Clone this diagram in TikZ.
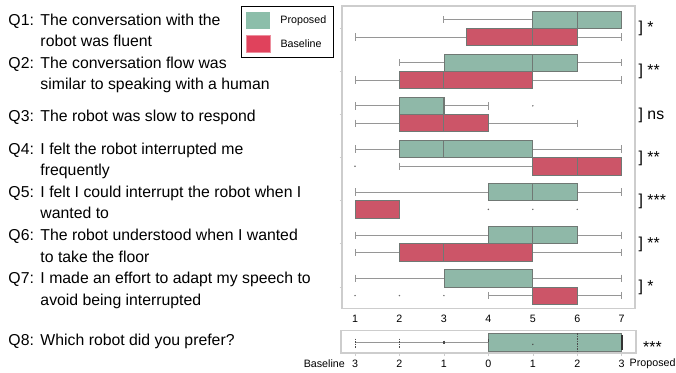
\documentclass[tikz,border=0pt]{standalone}
\usepackage{fontspec}
\setmainfont{Liberation Sans}
\usetikzlibrary{positioning}

\definecolor{propgreen}{RGB}{143,184,168}
\definecolor{basered}{RGB}{204,85,104}
\definecolor{leggreen}{RGB}{140,190,170}
\definecolor{legred}{RGB}{224,66,92}
\definecolor{framegray}{RGB}{205,205,205}
\definecolor{whiskgray}{RGB}{150,150,150}
\definecolor{edgegray}{RGB}{112,120,116}

\newcommand\questfont{\fontsize{15.8}{21.5}\selectfont}
\newcommand\axisfont{\fontsize{10.7}{12}\selectfont}

\tikzstyle{question} = [anchor=base west, inner sep=0pt, align=left, font=\questfont]
\tikzstyle{signif} = [anchor=base west, inner sep=0pt, font=\questfont]
\tikzstyle{axislabel} = [inner sep=0pt, font=\axisfont]
\tikzstyle{legtext} = [inner sep=0pt, font=\axisfont]
\tikzstyle{swatch} = [minimum width=24pt, minimum height=16.7pt, inner sep=0pt]
\tikzstyle{plotframe} = [draw=framegray, line width=1.2pt]
\tikzstyle{whisker} = [draw=whiskgray, line width=0.9pt]
\tikzstyle{propbox} = [fill=propgreen, draw=edgegray, line width=0.8pt]
\tikzstyle{basebox} = [fill=basered, draw=edgegray, line width=0.8pt]
\tikzstyle{median} = [draw=edgegray, line width=0.9pt]
\tikzstyle{qmark} = [draw=black!70, line width=1pt, dash pattern=on 1.5pt off 1pt]

\def\boxh{17.3}
\def\qindent{32pt}
% value on the 1..7 scale -> x position
\newcommand\xv[1]{\fpeval{355+(#1-1)*44.45}}

% #1 top of box, #2 box style, #3 low whisker, #4 q1, #5 median, #6 q3, #7 high whisker
\newcommand\bxplot[7]{%
    \draw[whisker] ({\xv{#3}},{#1+8.65}) -- ({\xv{#4}},{#1+8.65});
    \draw[whisker] ({\xv{#6}},{#1+8.65}) -- ({\xv{#7}},{#1+8.65});
    \draw[whisker] ({\xv{#3}},{#1+5}) -- ({\xv{#3}},{#1+12.3});
    \draw[whisker] ({\xv{#7}},{#1+5}) -- ({\xv{#7}},{#1+12.3});
    \draw[#2] ({\xv{#4}},#1) rectangle ({\xv{#6}},{#1+\boxh});
    \draw[median] ({\xv{#5}},#1) -- ({\xv{#5}},{#1+\boxh});
}
\newcommand\outlier[2]{\fill[whiskgray!70!black] ({\xv{#1}},{#2+8.65}) circle (0.8pt);}

\begin{document}
\begin{tikzpicture}[x=1pt, y=-1pt]
    \useasboundingbox (0,0) rectangle (676,372);

    % questions (base anchor sits on the last line)
    \path (8.3,46.5) node (q1) [question] {\makebox[\qindent][l]{Q1:}The conversation with the\\\hspace*{\qindent}robot was fluent};
    \path (8.3,89.6) node (q2) [question] {\makebox[\qindent][l]{Q2:}The conversation flow was\\\hspace*{\qindent}similar to speaking with a human};
    \path (8.3,121.5) node (q3) [question] {\makebox[\qindent][l]{Q3:}The robot was slow to respond};
    \path (8.3,175.8) node (q4) [question] {\makebox[\qindent][l]{Q4:}I felt the robot interrupted me\\\hspace*{\qindent}frequently};
    \path (8.3,218.9) node (q5) [question] {\makebox[\qindent][l]{Q5:}I felt I could interrupt the robot when I\\\hspace*{\qindent}wanted to};
    \path (8.3,262) node (q6) [question] {\makebox[\qindent][l]{Q6:}The robot understood when I wanted\\\hspace*{\qindent}to take the floor};
    \path (8.3,305.1) node (q7) [question] {\makebox[\qindent][l]{Q7:}I made an effort to adapt my speech to\\\hspace*{\qindent}avoid being interrupted};
    \path (8.3,345.5) node (q8) [question] {\makebox[\qindent][l]{Q8:}Which robot did you prefer?};

    % legend
    \draw[black, line width=0.9pt] (241,6) rectangle (333,57.5);
    \node (propswatch) [swatch, fill=leggreen] at (258,20.3) {};
    \node (baseswatch) [swatch, fill=legred, draw=legred!60, line width=0.6pt] at (258,43.7) {};
    \node (propkey) [legtext, right=10pt of propswatch] {Proposed};
    \node (basekey) [legtext, right=10pt of baseswatch] {Baseline};

    % main plot frame and row ticks
    \draw[plotframe] (342,6) rectangle (635,308.3);
    \foreach \r in {0,...,6}
        \draw[framegray, line width=0.8pt] (339.5,{28.3+43.1*\r}) -- (342,{28.3+43.1*\r});

    % Q1
    \bxplot{11}{propbox}{3}{5}{6}{7}{7}
    \bxplot{28.3}{basebox}{1}{3.5}{5}{6}{7}
    % Q2
    \bxplot{54.1}{propbox}{2}{3}{5}{6}{7}
    \bxplot{71.4}{basebox}{1}{2}{3}{5}{7}
    % Q3
    \bxplot{97.2}{propbox}{1}{2}{3}{3}{4}
    \outlier{5}{97.2}
    \bxplot{114.5}{basebox}{1}{2}{3}{4}{6}
    % Q4
    \bxplot{140.3}{propbox}{1}{2}{3}{5}{7}
    \bxplot{157.6}{basebox}{2}{5}{6}{7}{7}
    \outlier{1}{157.6}
    % Q5
    \bxplot{183.4}{propbox}{1}{4}{5}{6}{7}
    \bxplot{200.7}{basebox}{1}{1}{2}{2}{2}
    \outlier{4}{200.7}
    \outlier{5}{200.7}
    \outlier{6}{200.7}
    % Q6
    \bxplot{226.5}{propbox}{1}{4}{5}{6}{7}
    \bxplot{243.8}{basebox}{1}{2}{3}{5}{7}
    % Q7
    \bxplot{269.6}{propbox}{1}{3}{5}{5}{7}
    \bxplot{286.9}{basebox}{4}{5}{5}{6}{7}
    \outlier{1}{286.9}
    \outlier{2}{286.9}
    \outlier{3}{286.9}

    % significance
    \foreach \s [count=\r from 0] in {*,**,ns,**,***,**,*}
        \node (sig\r) [signif] at (638.5,{32.8+43.1*\r}) {] \s};

    % scale
    \foreach \v in {1,...,7}
        \node (tick\v) [axislabel] at ({\xv{\v}},319) {\v};

    % Q8 preference
    \draw[plotframe] (341,330.7) rectangle (636,353);
    \foreach \v in {1,...,7}
        \draw[framegray, line width=0.6pt] ({\xv{\v}},353) -- ({\xv{\v}},355.5);
    \draw[whisker] ({\xv{1}},342) -- ({\xv{4}},342);
    \draw[qmark] ({\xv{1}},338.5) -- ({\xv{1}},347.5);
    \draw[qmark] ({\xv{2}},338.5) -- ({\xv{2}},347.5);
    \draw[black!70, line width=1.2pt] ({\xv{3}},340.5) -- ({\xv{3}},344);
    \draw[propbox] ({\xv{4}},333) rectangle ({\xv{7}},351);
    \draw[black!70, line width=1.2pt] ({\xv{4}},338.5) -- ({\xv{4}},342);
    \draw[qmark] ({\xv{6}},333) -- ({\xv{6}},351);
    \fill[black!70] ({\xv{5}},344.3) circle (0.8pt);
    \draw[black!80, line width=1.6pt] ({\xv{7}},335) -- ({\xv{7}},350);
    \node (sig8) [signif] at (643,352.5) {***};

    \node (prefleft) [axislabel, anchor=east] at (345,364) {Baseline};
    \foreach \v [count=\i] in {3,2,1,0,1,2,3}
        \node (pref\i) [axislabel] at ({\xv{\i}},364) {\v};
    \node (prefright) [axislabel, anchor=west] at (629.5,364) {Proposed};
\end{tikzpicture}
\end{document}
